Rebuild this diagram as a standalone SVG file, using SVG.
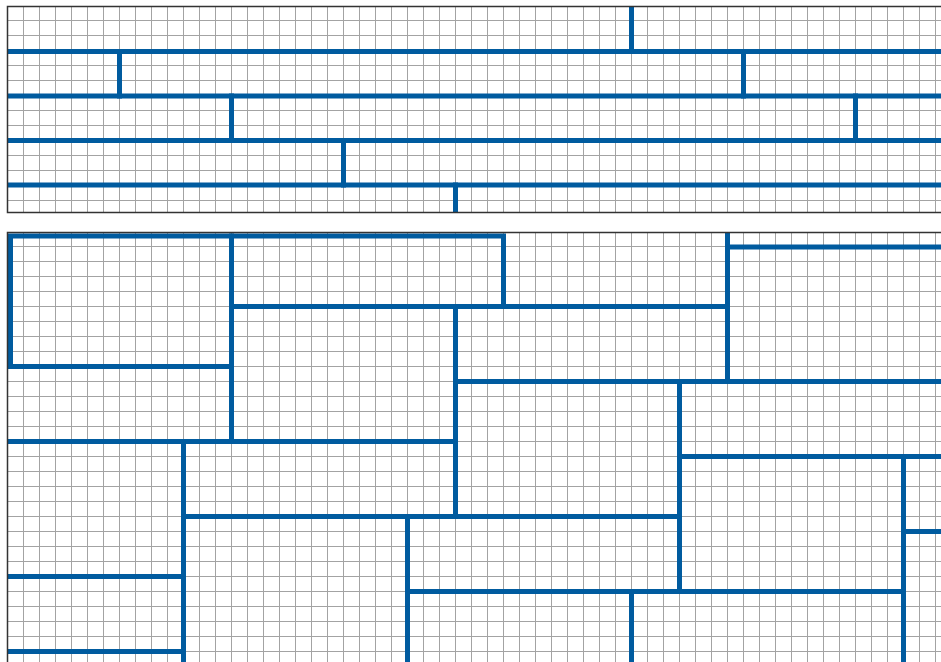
<svg xmlns="http://www.w3.org/2000/svg" width="941" height="662" viewBox="0 0 941 662">
  <style>
    .grid { stroke: #a3a3a3; stroke-width: 1; fill: none; }
    .frame { stroke: #333333; stroke-width: 1.5; fill: none; }
    .brick { stroke: #005b9f; stroke-width: 5; fill: none; stroke-linecap: square; stroke-linejoin: miter; }
  </style>
  <defs>
    <pattern id="vgrid" x="7" y="0" width="16" height="20" patternUnits="userSpaceOnUse">
      <rect x="0" y="0" width="1" height="20" fill="#a3a3a3"/>
    </pattern>
    <clipPath id="clipTop">
      <rect x="7.5" y="7" width="940" height="205.5"/>
    </clipPath>
    <clipPath id="clipBottom">
      <rect x="7.5" y="233" width="940" height="440"/>
    </clipPath>
  </defs>
  <rect x="0" y="0" width="941" height="662" fill="#ffffff"/>

  <g id="top-panel">
    <rect x="7.5" y="6.5" width="940" height="206" fill="url(#vgrid)"/>
    <path class="grid" d="M7 20.5H941M7 35.5H941M7 50.5H941M7 65.5H941M7 80.5H941M7 95.5H941M7 110.5H941M7 125.5H941M7 140.5H941M7 155.5H941M7 170.5H941M7 185.5H941M7 200.5H941"/>
    <g id="top-bricks" clip-path="url(#clipTop)">
      <path class="brick" d="M0 51.5H950M0 96H950M0 140.5H950M0 185H950"/>
      <path class="brick" d="M631.5 0V51.5M119.5 51.5V96M743.5 51.5V96M231.5 96V140.5M855.5 96V140.5M343.5 140.5V185M455.5 185V220"/>
    </g>
    <rect class="frame" x="7.5" y="6.5" width="940" height="206"/>
  </g>

  <g id="bottom-panel">
    <rect x="7.5" y="232.5" width="940" height="440" fill="url(#vgrid)"/>
    <path class="grid" d="M7 246.5H941M7 261.5H941M7 276.5H941M7 291.5H941M7 306.5H941M7 321.5H941M7 336.5H941M7 351.5H941M7 366.5H941M7 381.5H941M7 396.5H941M7 411.5H941M7 426.5H941M7 441.5H941M7 456.5H941M7 471.5H941M7 486.5H941M7 501.5H941M7 516.5H941M7 531.5H941M7 546.5H941M7 561.5H941M7 576.5H941M7 591.5H941M7 606.5H941M7 621.5H941M7 636.5H941M7 651.5H941"/>
    <g id="bottom-bricks" clip-path="url(#clipBottom)">
      <path class="brick" d="M231.5 366.5H10.5V236H503.5V306.5"/>
      <path class="brick" d="M231.5 236V441.5M727.5 225V381.5M727.5 247H950M231.5 306.5H727.5M455.5 381.5H950M455.5 306.5V516.5M0 441.5H455.5M679.5 381.5V591.5M679.5 456.5H950M183.5 516.5H679.5M903.5 456.5V670M903.5 531.5H950M183.5 441.5V670M0 576.5H183.5M0 651.5H183.5M407.5 516.5V670M407.5 591.5H903.5M631.5 591.5V670"/>
    </g>
    <path class="frame" d="M7.5 670V232.5H950"/>
  </g>
</svg>
